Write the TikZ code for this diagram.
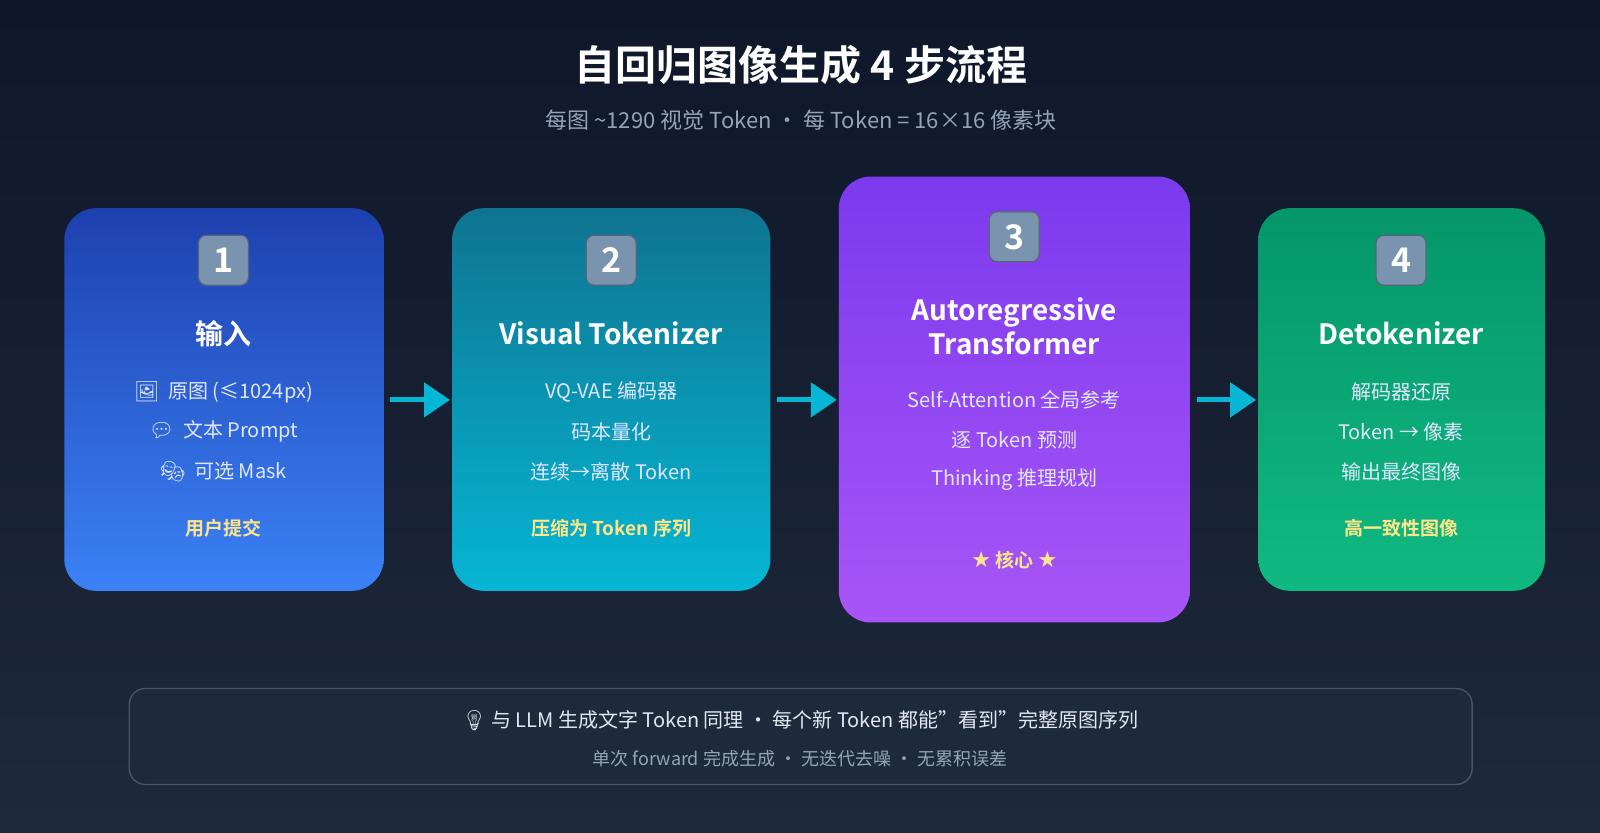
\documentclass[tikz,border=0pt]{standalone}
\usepackage{fontspec}
\setmainfont{Noto Sans CJK SC}[BoldFont={Noto Sans CJK SC Bold}]
\newfontfamily\emj{Noto Emoji}
\newfontfamily\djv{DejaVu Sans}
\usetikzlibrary{arrows.meta}
\definecolor{bgA}{HTML}{0F172A}
\definecolor{bgB}{HTML}{1E293B}
\definecolor{subc}{HTML}{94A3B8}
\definecolor{bodyc}{HTML}{E0E7FF}
\definecolor{footc}{HTML}{FDE68A}
\definecolor{arr}{HTML}{06B6D4}
\definecolor{keyc}{HTML}{7A93AE}
\tikzset{
 card/.style={anchor=north west,inner sep=0pt},
 key/.style={rounded corners=4pt,fill=keyc,draw=keyc!70!black,line width=0.6pt,minimum width=25pt,minimum height=25pt,inner sep=0pt,text=white,font=\bfseries\fontsize{17}{17}\selectfont},
 ctitle/.style={text=white,font=\bfseries\fontsize{14}{17}\selectfont,align=center},
 body/.style={text=bodyc,font=\fontsize{10}{12}\selectfont},
 foot/.style={text=footc,font=\bfseries\fontsize{9.5}{11}\selectfont},
 flow/.style={arr,line width=2.5pt,-{Triangle[length=13pt,width=17pt]}},
}
\begin{document}
\begin{tikzpicture}[x=0.5102pt,y=-0.5102pt]
\useasboundingbox (0,0) rectangle (1568,815.4);
\shade[top color=bgA,bottom color=bgB] (0,0) rectangle (1568,815.4);
\node[text=white,font=\bfseries\fontsize{20.5}{24}\selectfont] (title) at (785,64) {自回归图像生成 4 步流程};
\node[text=subc,font=\fontsize{11}{13}\selectfont] (sub) at (785,118) {每图 \textasciitilde1290 视觉 Token · 每 Token = 16×16 像素块};
% cards
\node[card,minimum width=159.7pt,minimum height=191.3pt] (c1) at (63,204) {};
\shade[rounded corners=16pt,shading angle=-45,top color={rgb,255:red,30;green,64;blue,175},bottom color={rgb,255:red,59;green,130;blue,246}] (63,204) rectangle (376,579);
\node[card,minimum width=159.2pt,minimum height=191.3pt] (c2) at (443,204) {};
\shade[rounded corners=16pt,shading angle=-45,top color={rgb,255:red,14;green,116;blue,144},bottom color={rgb,255:red,6;green,182;blue,212}] (443,204) rectangle (755,579);
\node[card,minimum width=175.5pt,minimum height=223pt] (c3) at (822,173) {};
\shade[rounded corners=16pt,shading angle=-45,top color={rgb,255:red,124;green,58;blue,237}, bottom color={rgb,255:red,168;green,85;blue,247}] (822,173) rectangle (1166,610);
\node[card,minimum width=143.4pt,minimum height=191.3pt] (c4) at (1233,204) {};
\shade[rounded corners=16pt,shading angle=-45,top color={rgb,255:red,5;green,150;blue,105}, bottom color={rgb,255:red,16;green,185;blue,129}] (1233,204) rectangle (1514,579);
% keycaps
\node[key] (k1) at (219,255) {1};
\node[key] (k2) at (599,255) {2};
\node[key] (k3) at (994,232) {3};
\node[key] (k4) at (1373,255) {4};
% card 1
\node[ctitle] (t1) at (219,327) {输入};
\node[body] (b11) at (219,384) {{\emj 🖼}\ \ 原图 (≤1024px)};
\node[body] (b12) at (219,423) {{\emj 💬}\ \ 文本 Prompt};
\node[body] (b13) at (219,462) {{\emj 🎭}\ \ 可选 Mask};
\node[foot] (f1) at (219,518) {用户提交};
% card 2
\node[ctitle] (t2) at (599,327) {Visual Tokenizer};
\node[body] (b21) at (599,384) {VQ-VAE 编码器};
\node[body] (b22) at (599,423) {码本量化};
\node[body] (b23) at (599,462) {连续→离散 Token};
\node[foot] (f2) at (599,518) {压缩为 Token 序列};
% card 3
\node[ctitle] (t3) at (994,320) {Autoregressive\\Transformer};
\node[body] (b31) at (994,392) {Self-Attention 全局参考};
\node[body] (b32) at (994,431) {逐 Token 预测};
\node[body] (b33) at (994,470) {Thinking 推理规划};
\node[foot] (f3) at (994,549) {{\djv\fontsize{11}{11}\selectfont ★} 核心 {\djv\fontsize{11}{11}\selectfont ★}};
% card 4
\node[ctitle] (t4) at (1373,327) {Detokenizer};
\node[body] (b41) at (1373,384) {解码器还原};
\node[body] (b42) at (1373,423) {Token → 像素};
\node[body] (b43) at (1373,462) {输出最终图像};
\node[foot] (f4) at (1373,518) {高一致性图像};
% arrows
\draw[flow] ([xshift=3pt]c1.east) -- ([xshift=-1pt]c2.west);
\draw[flow] ([xshift=3pt]c2.east) -- ([xshift=-1pt]c2.east-|c3.west);
\draw[flow] ([xshift=3pt]c2.east-|c3.east) -- ([xshift=-1pt]c4.west);
% bottom note
\node[draw={rgb,255:red,71;green,85;blue,105},fill={rgb,255:red,30;green,41;blue,59},rounded corners=8pt,line width=0.7pt,minimum width=671.4pt,minimum height=48pt,anchor=north west] (note) at (126,674) {};
\node[text={rgb,255:red,226;green,232;blue,240},font=\fontsize{10}{12}\selectfont] (n1) at (784,706) {{\emj 💡}\ 与 LLM 生成文字 Token 同理 · 每个新 Token 都能"看到"完整原图序列};
\node[text=subc,font=\fontsize{9}{11}\selectfont] (n2) at (784,743) {单次 forward 完成生成 · 无迭代去噪 · 无累积误差};
\end{tikzpicture}
\end{document}
